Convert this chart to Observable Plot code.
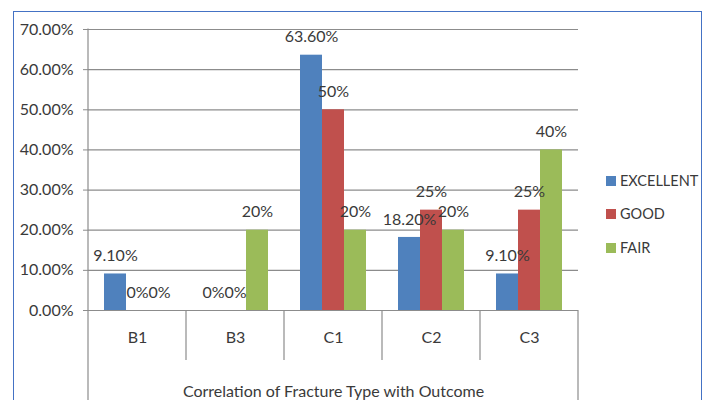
<!DOCTYPE html>
<html><head><meta charset="utf-8">
<script src="https://cdn.jsdelivr.net/npm/d3@7"></script>
<script src="https://cdn.jsdelivr.net/npm/@observablehq/plot@0.6"></script>
<style>
body{margin:0;background:#fff;font-family:Lato,sans-serif;}
#wrap{position:relative;width:708px;height:400px;overflow:hidden;background:#fff;}
#border{position:absolute;left:13px;top:11px;width:687px;height:420px;border:1.5px solid #4472c4;border-bottom:none;}
#chart{position:absolute;left:0;top:0;}
.li{position:absolute;left:606px;display:flex;align-items:center;font-size:14.5px;color:#3a3a3a;line-height:16px;}
.sw{width:10px;height:10px;margin-right:4px;}
</style></head><body><div id="wrap"><div id="border"></div><div id="chart"></div></div>
<script>
const categories = ["B1","B3","C1","C2","C3"];
const series = ["EXCELLENT","GOOD","FAIR"];
const excellent = [9.1, 0, 63.6, 18.2, 9.1];
const good = [0, 0, 50, 25, 25];
const fair = [0, 20, 20, 20, 40];
const excellentLabels = ["9.10%","0%","63.60%","18.20%","9.10%"];
const goodLabels = ["0%","0%","50%","25%","25%"];
const fairLabels = ["0%","20%","20%","20%","40%"];
const colors = ["#4f81bd","#c0504d","#9bbb59"];
const yTicks = [0,10,20,30,40,50,60,70];
const xTitle = "Correlation of Fracture Type with Outcome";

const values = [excellent, good, fair];
const labels = [excellentLabels, goodLabels, fairLabels];
const data = [];
categories.forEach((c, i) => series.forEach((s, j) => data.push({cat: c, series: s, value: values[j][i], label: labels[j][i]})));

const txt = "#3a3a3a", grid = "#8c8c8c";
const W = 708, H = 400, ML = 88, MR = 130, MT = 29, MB = 90;
const FS = 16;

const plot = Plot.plot({
  width: W, height: H,
  marginLeft: ML, marginRight: MR, marginTop: MT, marginBottom: MB,
  style: {fontFamily: "Lato, sans-serif", fontSize: FS + "px", color: txt, background: "transparent", overflow: "visible"},
  fx: {domain: categories, padding: 0, label: null},
  x: {domain: series, paddingInner: 0, paddingOuter: 0.727, axis: null},
  y: {domain: [0, 70], axis: null},
  color: {domain: series, range: colors},
  marks: [
    Plot.gridY(yTicks, {stroke: grid, strokeOpacity: 1, strokeWidth: 1.2}),
    Plot.barY(data, {fx: "cat", x: "series", y: "value", fill: "series"}),
    Plot.text(data, {fx: "cat", x: "series", y: "value", text: "label", dy: -18, fontSize: FS, fill: txt}),
    Plot.axisY(yTicks, {tickFormat: d => d.toFixed(2) + "%", tickSize: 5, tickPadding: 10, stroke: grid, strokeOpacity: 1, label: null, fontSize: FS, fill: txt}),
    Plot.axisFx({anchor: "bottom", tickSize: 0, tickPadding: 21, fontSize: FS, fill: txt, label: xTitle, labelAnchor: "center", labelOffset: 86})
  ]
});
document.getElementById("chart").appendChild(plot);

// axis lines and category separators (from the plot's own scales)
const fx = plot.scale("fx"), y = plot.scale("y");
const svg = d3.select(plot);
const y0 = y.apply(0), yTop = y.apply(70);
const left = fx.apply(categories[0]);
const right = fx.apply(categories[categories.length - 1]) + fx.bandwidth;
const g = svg.append("g").attr("stroke", grid).attr("stroke-width", 1.2);
g.append("line").attr("x1", left).attr("x2", left).attr("y1", yTop - 0.5).attr("y2", H);
g.append("line").attr("x1", right).attr("x2", right).attr("y1", y0).attr("y2", H);
categories.slice(1).forEach(c => {
  const xv = fx.apply(c);
  g.append("line").attr("x1", xv).attr("x2", xv).attr("y1", y0).attr("y2", y0 + 50);
});

// legend
const wrap = document.getElementById("wrap");
const legendY = [181, 214, 248];
series.forEach((s, j) => {
  const d = document.createElement("div");
  d.className = "li";
  d.style.top = (legendY[j] - 8) + "px";
  d.innerHTML = `<span class="sw" style="background:${colors[j]}"></span>${s}`;
  wrap.appendChild(d);
});
</script>
</body></html>
